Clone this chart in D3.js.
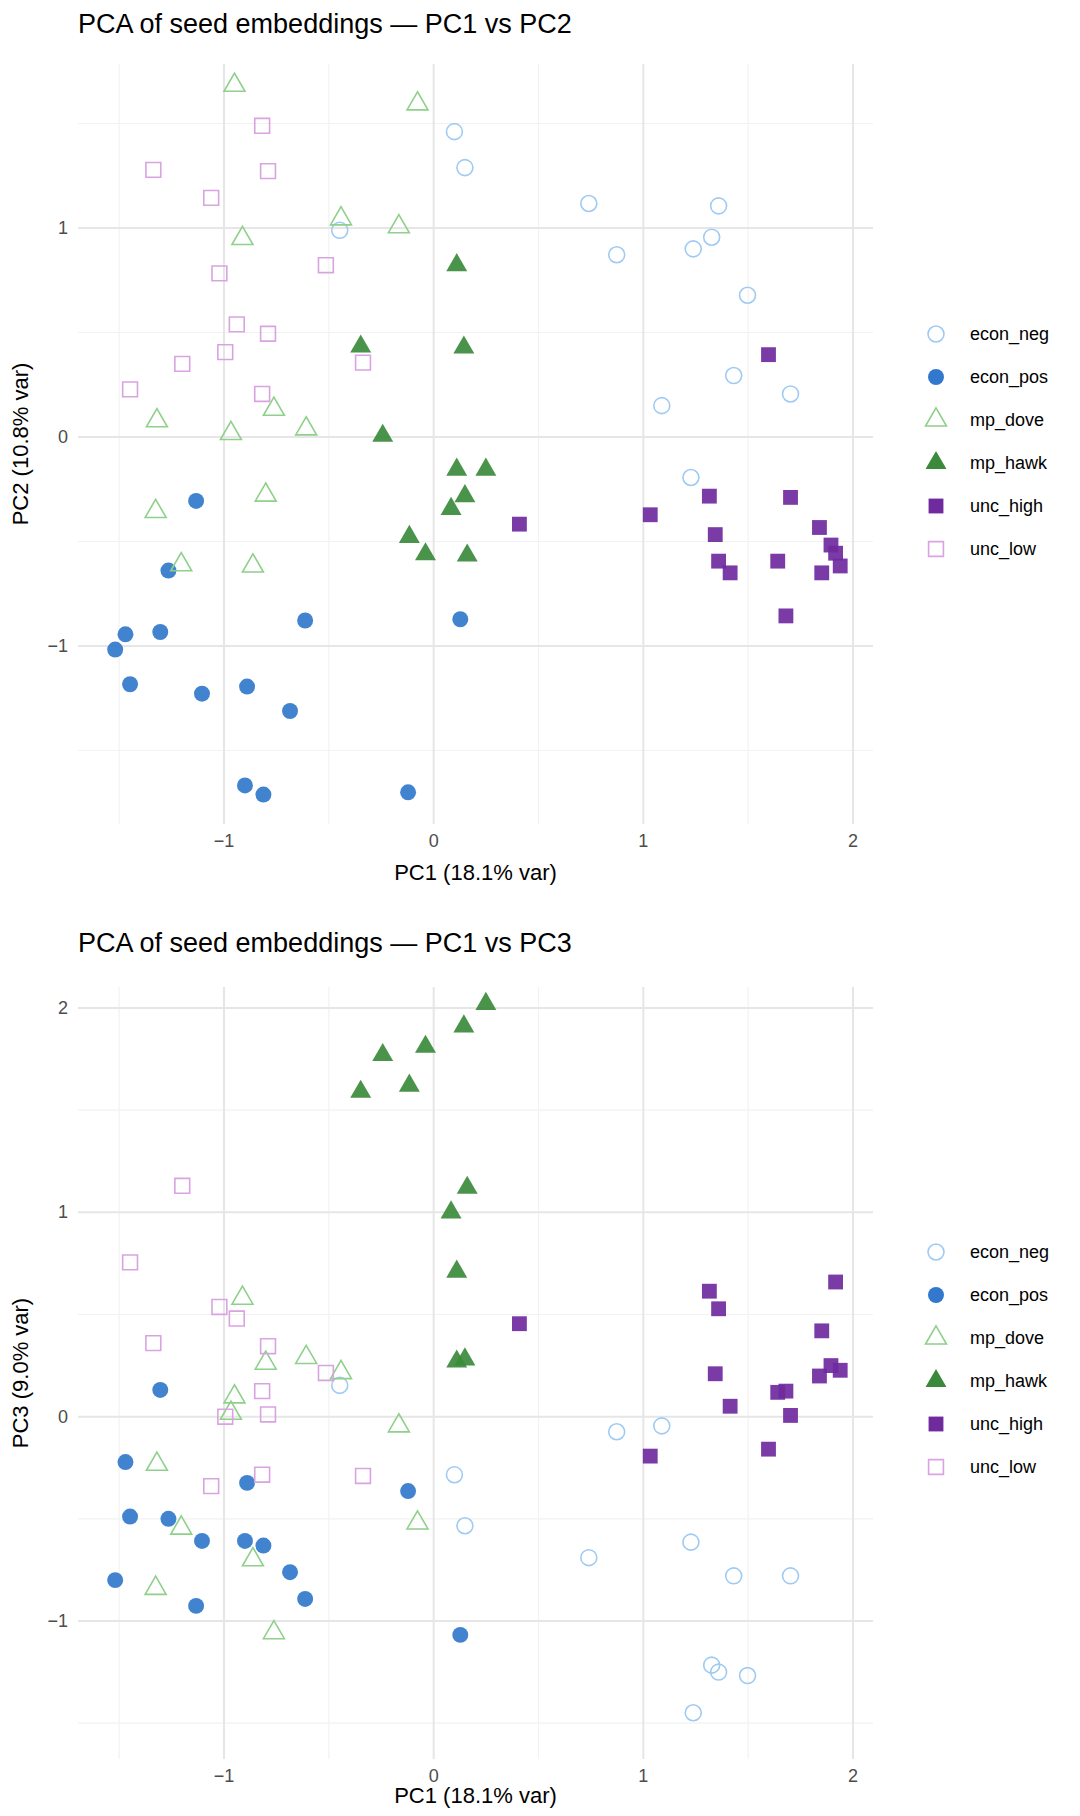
<!DOCTYPE html>
<html><head><meta charset="utf-8">
<script src="https://cdn.jsdelivr.net/npm/d3@7"></script>
<style>body{margin:0;background:#fff}text{font-family:"Liberation Sans",Arial,sans-serif}</style>
</head><body><svg id="c" width="1080" height="1816"></svg>
<script>
const groups = ["econ_neg","econ_pos","mp_dove","mp_hawk","unc_high","unc_low"];
const econ_neg = [[-0.448,0.989,0.153],[0.099,1.461,-0.284],[0.149,1.289,-0.534],[0.740,1.117,-0.690],[0.873,0.872,-0.074],[1.088,0.150,-0.045],[1.227,-0.194,-0.614],[1.238,0.900,-1.449],[1.326,0.956,-1.216],[1.359,1.106,-1.250],[1.431,0.294,-0.779],[1.497,0.678,-1.267],[1.702,0.206,-0.779]];
const econ_pos = [[-1.519,-1.017,-0.800],[-1.470,-0.944,-0.222],[-1.448,-1.183,-0.489],[-1.304,-0.933,0.131],[-1.265,-0.639,-0.500],[-1.133,-0.306,-0.926],[-1.105,-1.228,-0.608],[-0.900,-1.667,-0.608],[-0.890,-1.194,-0.324],[-0.812,-1.711,-0.631],[-0.685,-1.311,-0.761],[-0.613,-0.878,-0.892],[-0.122,-1.700,-0.364],[0.127,-0.872,-1.068]];
const mp_dove = [[-0.950,1.683,0.097],[-0.967,0.017,0.017],[-0.077,1.594,-0.52],[-0.442,1.044,0.216],[-0.166,1.006,-0.045],[-0.912,0.950,0.58],[-1.320,0.078,-0.233],[-1.326,-0.356,-0.84],[-0.762,0.133,-1.057],[-0.608,0.039,0.29],[-0.801,-0.278,0.262],[-1.204,-0.611,-0.545],[-0.862,-0.617,-0.70]];
const mp_hawk = [[-0.348,0.433,1.59],[-0.243,0.006,1.77],[-0.116,-0.478,1.62],[-0.039,-0.561,1.81],[0.144,0.428,1.91],[0.249,-0.156,2.02],[0.160,-0.567,1.12],[0.083,-0.344,1.0],[0.110,0.822,0.71],[0.110,-0.156,0.27],[0.149,-0.283,0.28]];
const unc_high = [[0.409,-0.417,0.455],[1.033,-0.372,-0.193],[1.315,-0.283,0.614],[1.343,-0.467,0.210],[1.359,-0.594,0.528],[1.414,-0.650,0.051],[1.597,0.394,-0.159],[1.641,-0.594,0.119],[1.680,-0.856,0.125],[1.702,-0.289,0.006],[1.840,-0.433,0.199],[1.851,-0.650,0.420],[1.895,-0.517,0.250],[1.917,-0.556,0.659],[1.939,-0.617,0.227]];
const unc_low = [[-0.818,1.489,0.125],[-1.337,1.278,0.36],[-0.790,1.272,0.345],[-1.061,1.144,-0.34],[-0.514,0.822,0.214],[-1.022,0.783,0.537],[-0.939,0.539,0.48],[-0.790,0.494,0.011],[-1.199,0.350,1.13],[-0.994,0.406,0.0],[-0.337,0.356,-0.29],[-1.448,0.228,0.755],[-0.818,0.206,-0.284]];
const xTicks = [-1,0,1,2];
const yTicksTop = [-1,0,1];
const yTicksBot = [-1,0,1,2];
const colors = {econ_neg:"#9fcbf3",econ_pos:"#3278cc",mp_dove:"#8fd08a",mp_hawk:"#3b8a3b",unc_high:"#6f2a9e",unc_low:"#d9a3e2"};
const filled = {econ_neg:false,econ_pos:true,mp_dove:false,mp_hawk:true,unc_high:true,unc_low:false};
const shapes = {econ_neg:d3.symbolCircle,econ_pos:d3.symbolCircle,mp_dove:d3.symbolTriangle,mp_hawk:d3.symbolTriangle,unc_high:d3.symbolSquare,unc_low:d3.symbolSquare};
const data = {econ_neg,econ_pos,mp_dove,mp_hawk,unc_high,unc_low};
function symSize(g){return shapes[g]===d3.symbolCircle?200:shapes[g]===d3.symbolTriangle?190:220;}

const svg = d3.select("#c");
function panel(opt){
  const x = d3.scaleLinear().domain([-1,2]).range([224,853]);
  const y = d3.scaleLinear().domain(opt.yd).range(opt.yr);
  const [L,R] = [78,873], [T,B] = opt.box;
  const g = svg.append("g");
  const xd=[x.invert(L),x.invert(R)], ydm=[y.invert(B),y.invert(T)];
  for(let v=Math.ceil(xd[0]*2)/2; v<=xd[1]; v+=0.5){ if(Number.isInteger(v)) continue;
    g.append("line").attr("x1",x(v)).attr("x2",x(v)).attr("y1",T).attr("y2",B).attr("stroke","#f2f2f2").attr("stroke-width",1.2);}
  for(let v=Math.ceil(ydm[0]*2)/2; v<=ydm[1]; v+=0.5){ if(Number.isInteger(v)) continue;
    g.append("line").attr("y1",y(v)).attr("y2",y(v)).attr("x1",L).attr("x2",R).attr("stroke","#f2f2f2").attr("stroke-width",1.2);}
  xTicks.forEach(v=>g.append("line").attr("x1",x(v)).attr("x2",x(v)).attr("y1",T).attr("y2",B).attr("stroke","#e6e6e6").attr("stroke-width",2));
  opt.yt.forEach(v=>g.append("line").attr("y1",y(v)).attr("y2",y(v)).attr("x1",L).attr("x2",R).attr("stroke","#e6e6e6").attr("stroke-width",2));
  xTicks.forEach(v=>g.append("text").attr("x",x(v)).attr("y",B+23).attr("text-anchor","middle").attr("font-size",18).attr("fill","#4d4d4d").text(v<0?"\u2212"+(-v):v));
  opt.yt.forEach(v=>g.append("text").attr("x",68).attr("y",y(v)+6).attr("text-anchor","end").attr("font-size",18).attr("fill","#4d4d4d").text(v<0?"\u2212"+(-v):v));
  g.append("text").attr("x",(L+R)/2).attr("y",B+opt.xlabOff).attr("text-anchor","middle").attr("font-size",22).text("PC1 (18.1% var)");
  g.append("text").attr("transform",`translate(28,${(T+B)/2}) rotate(-90)`).attr("text-anchor","middle").attr("font-size",22).text(opt.ylab);
  g.append("text").attr("x",78).attr("y",opt.titleY).attr("font-size",27).text(opt.title);
  groups.forEach(k=>{
    g.selectAll(null).data(data[k]).enter().append("path")
     .attr("d",d3.symbol().type(shapes[k]).size(symSize(k)))
     .attr("transform",d=>`translate(${x(d[0])},${y(d[opt.idx])})`)
     .attr("fill",filled[k]?colors[k]:"none").attr("fill-opacity",0.92)
     .attr("stroke",colors[k]).attr("stroke-width",filled[k]?0:1.6);
  });
  groups.forEach((k,i)=>{
    const ly = opt.legY + i*43;
    g.append("path").attr("d",d3.symbol().type(shapes[k]).size(symSize(k))).attr("transform",`translate(936,${ly})`)
     .attr("fill",filled[k]?colors[k]:"none").attr("stroke",colors[k]).attr("stroke-width",filled[k]?0:1.6);
    g.append("text").attr("x",970).attr("y",ly+6).attr("font-size",18).text(k);
  });
}
panel({yd:[-1,1],yr:[646,228],box:[64,824],yt:yTicksTop,idx:1,ylab:"PC2 (10.8% var)",title:"PCA of seed embeddings \u2014 PC1 vs PC2",titleY:33,legY:334,xlabOff:56});
panel({yd:[-1,2],yr:[1621,1008],box:[987,1759],yt:yTicksBot,idx:2,ylab:"PC3 (9.0% var)",title:"PCA of seed embeddings \u2014 PC1 vs PC3",titleY:952,legY:1252,xlabOff:44});
</script></body></html>
